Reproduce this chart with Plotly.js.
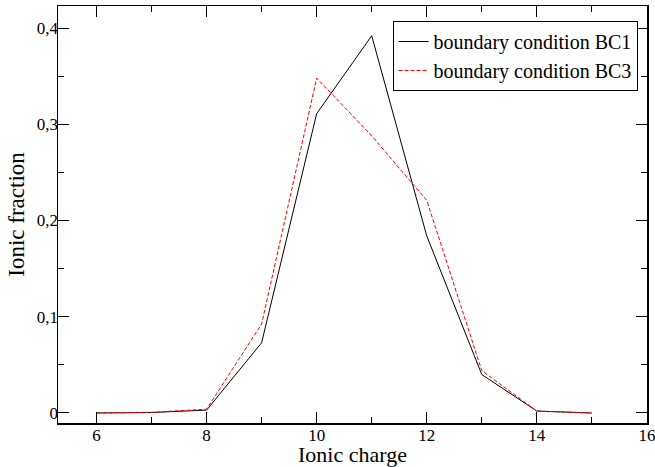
<!DOCTYPE html>
<html>
<head>
<meta charset="utf-8">
<script src="https://cdn.plot.ly/plotly-3.0.1.min.js"></script>
<style>html,body{margin:0;padding:0;background:#fff;}#chart{width:655px;height:467px;}</style>
</head>
<body>
<div id="chart"></div>
<script>
const charges = [6, 7, 8, 9, 10, 11, 12, 13, 14, 15];
const bc1 = [0.000, 0.0005, 0.003, 0.073, 0.311, 0.392, 0.184, 0.040, 0.002, 0.000];
const bc3 = [0.000, 0.0007, 0.004, 0.0925, 0.348, 0.288, 0.221, 0.044, 0.002, 0.000];
const names = ["boundary condition BC1", "boundary condition BC3"];
const xTitle = "Ionic charge";
const yTitle = "Ionic fraction";

const font = "Liberation Serif";
const traces = [
  {x: charges, y: bc1, name: names[0], mode: "lines", type: "scatter",
   line: {color: "#000000", width: 1}},
  {x: charges, y: bc3, name: names[1], mode: "lines", type: "scatter",
   line: {color: "#ff0000", width: 1, dash: "4px,2px"}}
];
function axisCommon() {
  return {
    showline: true, mirror: "ticks", linecolor: "#000", linewidth: 1.5,
    ticks: "inside", ticklen: 11, tickwidth: 1, tickcolor: "#000",
    showgrid: false, zeroline: false, ticklabeloverflow: "allow",
    tickfont: {family: font, size: 17, color: "#000"}
  };
}
const layout = {
  width: 655, height: 467,
  margin: {l: 58, r: 8, t: 6, b: 44},
  paper_bgcolor: "#fff", plot_bgcolor: "#fff",
  separators: ",.",
  showlegend: true,
  font: {family: font, color: "#000", size: 17},
  xaxis: Object.assign(axisCommon(), {
    range: [5.3, 16.002], tick0: 6, dtick: 2,
    ticklabelstandoff: -4,
    minor: {ticks: "inside", ticklen: 6, dtick: 1, tick0: 6, tickcolor: "#000", showgrid: false}
  }),
  yaxis: Object.assign(axisCommon(), {
    range: [-0.0104, 0.4229], tick0: 0, dtick: 0.1,
    ticklabelstandoff: -5,
    minor: {ticks: "inside", ticklen: 6, dtick: 0.05, tick0: 0, tickcolor: "#000", showgrid: false},
    title: {text: yTitle, font: {family: font, size: 23, color: "#000"}, standoff: 6}
  }),
  annotations: [{
    text: xTitle, xref: "paper", yref: "paper", x: 0.5, y: 0,
    xanchor: "center", yanchor: "top", yshift: -17, showarrow: false,
    font: {family: font, size: 22, color: "#000"}
  }],
  legend: {
    x: 0.568, y: 0.964, xanchor: "left", yanchor: "top",
    bordercolor: "#000", borderwidth: 1, bgcolor: "#fff",
    font: {family: font, size: 20, color: "#000"},
    itemwidth: 30, tracegroupgap: 0
  }
};
Plotly.newPlot("chart", traces, layout, {displayModeBar: false, staticPlot: true});
</script>
</body>
</html>
